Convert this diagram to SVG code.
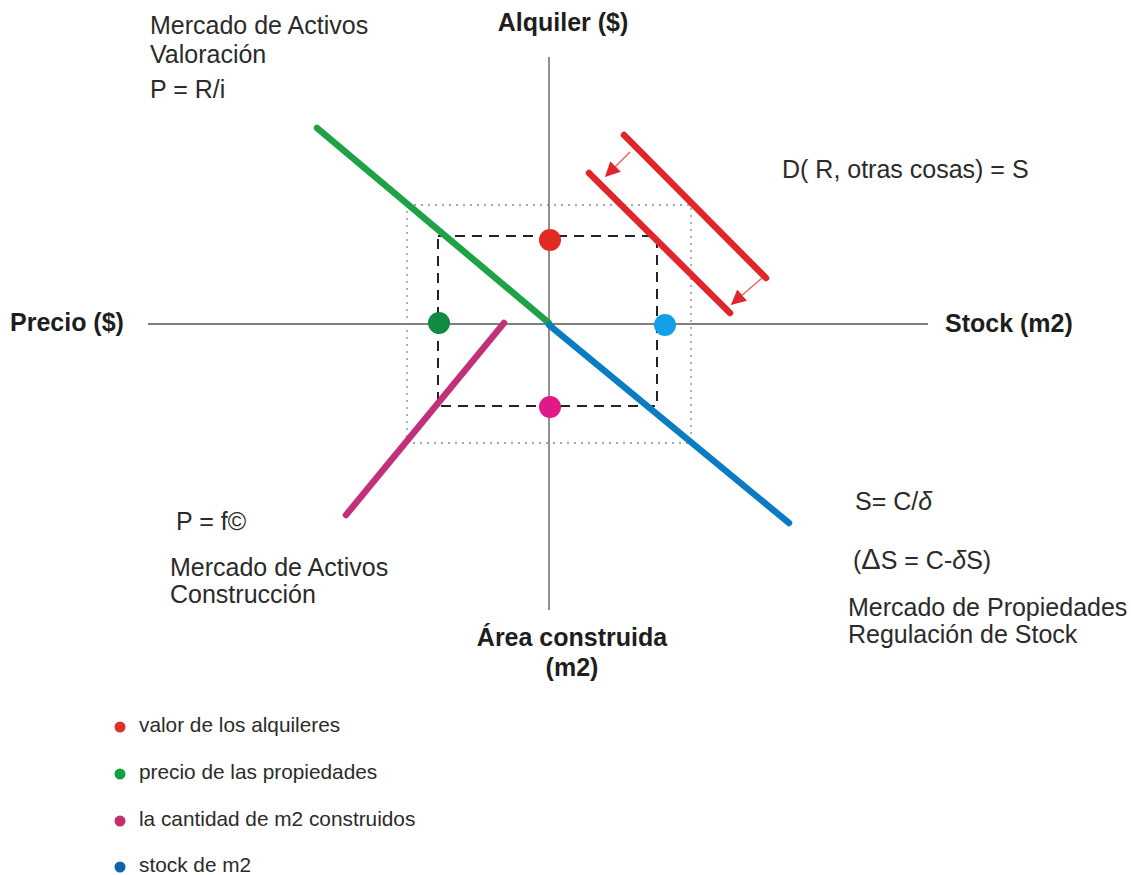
<svg xmlns="http://www.w3.org/2000/svg" width="1131" height="875" viewBox="0 0 1131 875">
  <defs>
    <marker id="arrowRed" viewBox="0 0 10 10" refX="9" refY="5" markerWidth="15" markerHeight="15" orient="auto" markerUnits="userSpaceOnUse" preserveAspectRatio="none">
      <path d="M0,0 L10,5 L0,10 z" fill="#e0262b"/>
    </marker>
    <style>
      .t { font-family: "Liberation Sans", Arial, sans-serif; fill: #2b2b2b; font-size: 25px; }
      .b { font-family: "Liberation Sans", Arial, sans-serif; fill: #1e1e1e; font-size: 25px; font-weight: bold; }
      .leg { font-family: "Liberation Sans", Arial, sans-serif; fill: #2b2b2b; font-size: 20.8px; }
      .axis { stroke: #555; stroke-width: 1.3; fill: none; }
      .curve { stroke-width: 6.5; stroke-linecap: round; fill: none; }
      .shift { stroke: #e65a5e; stroke-width: 1.2; fill: none; }
    </style>
  </defs>
  <rect width="1131" height="875" fill="#ffffff"/>

  <!-- axes -->
  <g id="axes">
    <line class="axis" x1="549" y1="57" x2="549" y2="610"/>
    <line class="axis" x1="148" y1="324" x2="928" y2="324"/>
  </g>

  <!-- equilibrium boxes -->
  <g id="boxes">
    <rect x="407" y="205" width="284" height="238" fill="none" stroke="#888" stroke-width="1.3" stroke-dasharray="2,5"/>
    <rect x="438" y="236" width="219" height="170" fill="none" stroke="#222" stroke-width="2" stroke-dasharray="10,7"/>
  </g>

  <!-- curves -->
  <g id="connectors">
    <line class="curve" stroke="#1ea246" x1="317" y1="128" x2="549" y2="323"/>
    <line class="curve" stroke="#0b7cc1" x1="549" y1="325" x2="789" y2="523"/>
    <line class="curve" stroke="#c2307a" x1="504" y1="323" x2="346" y2="515"/>
    <line class="curve" stroke="#e0262b" x1="624" y1="135" x2="766" y2="278"/>
    <line class="curve" stroke="#e0262b" x1="589" y1="173" x2="730" y2="313"/>
    <line class="shift" x1="630" y1="152" x2="606" y2="176" marker-end="url(#arrowRed)"/>
    <line class="shift" x1="762" y1="278" x2="732" y2="304" marker-end="url(#arrowRed)"/>
  </g>

  <!-- equilibrium points -->
  <g id="points">
    <circle id="p-rent" cx="550" cy="240" r="11" fill="#e02a22"/>
    <circle id="p-price" cx="439" cy="323" r="11" fill="#0f8c40"/>
    <circle id="p-stock" cx="665" cy="325" r="11" fill="#14a0e6"/>
    <circle id="p-built" cx="550" cy="407" r="11" fill="#e0188a"/>
  </g>

  <!-- axis titles -->
  <g id="axis-labels">
    <text class="b" x="563" y="31" text-anchor="middle">Alquiler ($)</text>
    <text class="b" x="10" y="331">Precio ($)</text>
    <text class="b" x="945" y="332">Stock (m2)</text>
    <text class="b" x="572" y="646" text-anchor="middle">Área construida</text>
    <text class="b" x="572" y="676" text-anchor="middle">(m2)</text>
  </g>

  <!-- quadrant notes -->
  <g id="valuation">
    <text class="t" x="150" y="34">Mercado de Activos</text>
    <text class="t" x="150" y="63">Valoración</text>
    <text class="t" x="150" y="98">P = R/i</text>
  </g>
  <g id="demand">
    <text class="t" x="782" y="178">D( R, otras cosas) = S</text>
  </g>
  <g id="construction">
    <text class="t" x="176" y="530">P = f©</text>
    <text class="t" x="170" y="576">Mercado de Activos</text>
    <text class="t" x="170" y="603">Construcción</text>
  </g>
  <g id="stock">
    <text class="t" x="855" y="510">S= C/<tspan font-style="italic">δ</tspan></text>
    <text class="t" x="853" y="569">(<tspan font-size="29">Δ</tspan>S = C-<tspan font-style="italic">δ</tspan>S)</text>
    <text class="t" x="848" y="616">Mercado de Propiedades</text>
    <text class="t" x="848" y="643">Regulación de Stock</text>
  </g>

  <!-- legend -->
  <g id="legend">
    <circle cx="120" cy="727" r="5.5" fill="#e0302a"/>
    <text class="leg" x="139" y="732">valor de los alquileres</text>
    <circle cx="120" cy="774" r="5.5" fill="#12a044"/>
    <text class="leg" x="139" y="779">precio de las propiedades</text>
    <circle cx="120" cy="821" r="5.5" fill="#c2306e"/>
    <text class="leg" x="139" y="826">la cantidad de m2 construidos</text>
    <circle cx="120" cy="867" r="5.5" fill="#1062aa"/>
    <text class="leg" x="139" y="872">stock de m2</text>
  </g>
</svg>
